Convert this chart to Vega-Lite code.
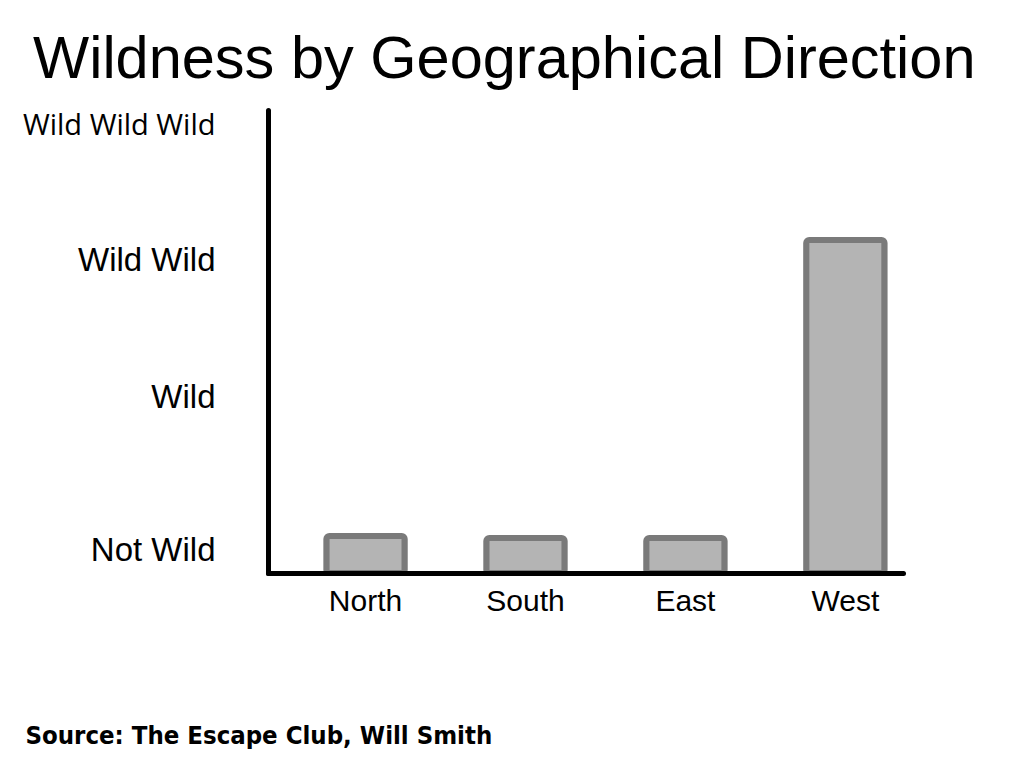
{
  "$schema": "https://vega.github.io/schema/vega-lite/v6.json",
  "autosize": "none",
  "width": 635,
  "height": 463,
  "padding": {"left": 268, "top": 110, "right": 121, "bottom": 195},
  "background": "white",
  "config": {"view": {"stroke": null}},
  "title": {
    "text": "Wildness by Geographical Direction",
    "font": "Liberation Sans",
    "fontSize": 59.5,
    "fontWeight": "normal",
    "color": "black",
    "anchor": "start",
    "frame": "group",
    "dx": -235,
    "dy": 59,
    "baseline": "alphabetic",
    "offset": 32
  },
  "data": {
    "values": [
      {"direction": "North", "wildness": 37},
      {"direction": "South", "wildness": 35},
      {"direction": "East", "wildness": 35},
      {"direction": "West", "wildness": 333}
    ]
  },
  "mark": {
    "type": "bar",
    "fill": "#b4b4b4",
    "stroke": "#7a7a7a",
    "strokeWidth": 6,
    "cornerRadius": 3
  },
  "encoding": {
    "x": {
      "field": "direction",
      "type": "nominal",
      "sort": null,
      "scale": {"paddingInner": 0.51, "paddingOuter": 0.24, "align": 0.76},
      "axis": {
        "title": "Source: The Escape Club, Will Smith",
        "titleFont": "DejaVu Sans Condensed",
        "titleFontWeight": "bold",
        "titleFontSize": 25.5,
        "titleColor": "black",
        "titleX": -243,
        "titleY": 162,
        "titleAlign": "left",
        "titleBaseline": "middle",
        "labelAngle": 0,
        "labelFont": "Liberation Sans",
        "labelFontSize": 30,
        "labelColor": "black",
        "labelPadding": 13,
        "ticks": false,
        "domainColor": "black",
        "domainWidth": 5,
        "domainCap": "round",
        "zindex": 1
      }
    },
    "y": {
      "field": "wildness",
      "type": "quantitative",
      "scale": {"domain": [0, 463], "nice": false},
      "axis": {
        "title": null,
        "grid": false,
        "ticks": false,
        "values": [23, 176, 313, 448],
        "labelExpr": "datum.value == 23 ? 'Not Wild' : datum.value == 176 ? 'Wild' : datum.value == 313 ? 'Wild Wild' : 'Wild Wild Wild'",
        "labelFont": {"condition": {"test": "datum.value == 448", "value": "Open Sans"}, "value": "Liberation Sans"},
        "labelFontSize": {"condition": {"test": "datum.value == 448", "value": 29}, "value": 33},
        "labelLimit": 400,
        "labelColor": "black",
        "labelPadding": 53,
        "labelBaseline": "middle",
        "domainColor": "black",
        "domainWidth": 5,
        "domainCap": "round",
        "zindex": 1
      }
    }
  }
}
